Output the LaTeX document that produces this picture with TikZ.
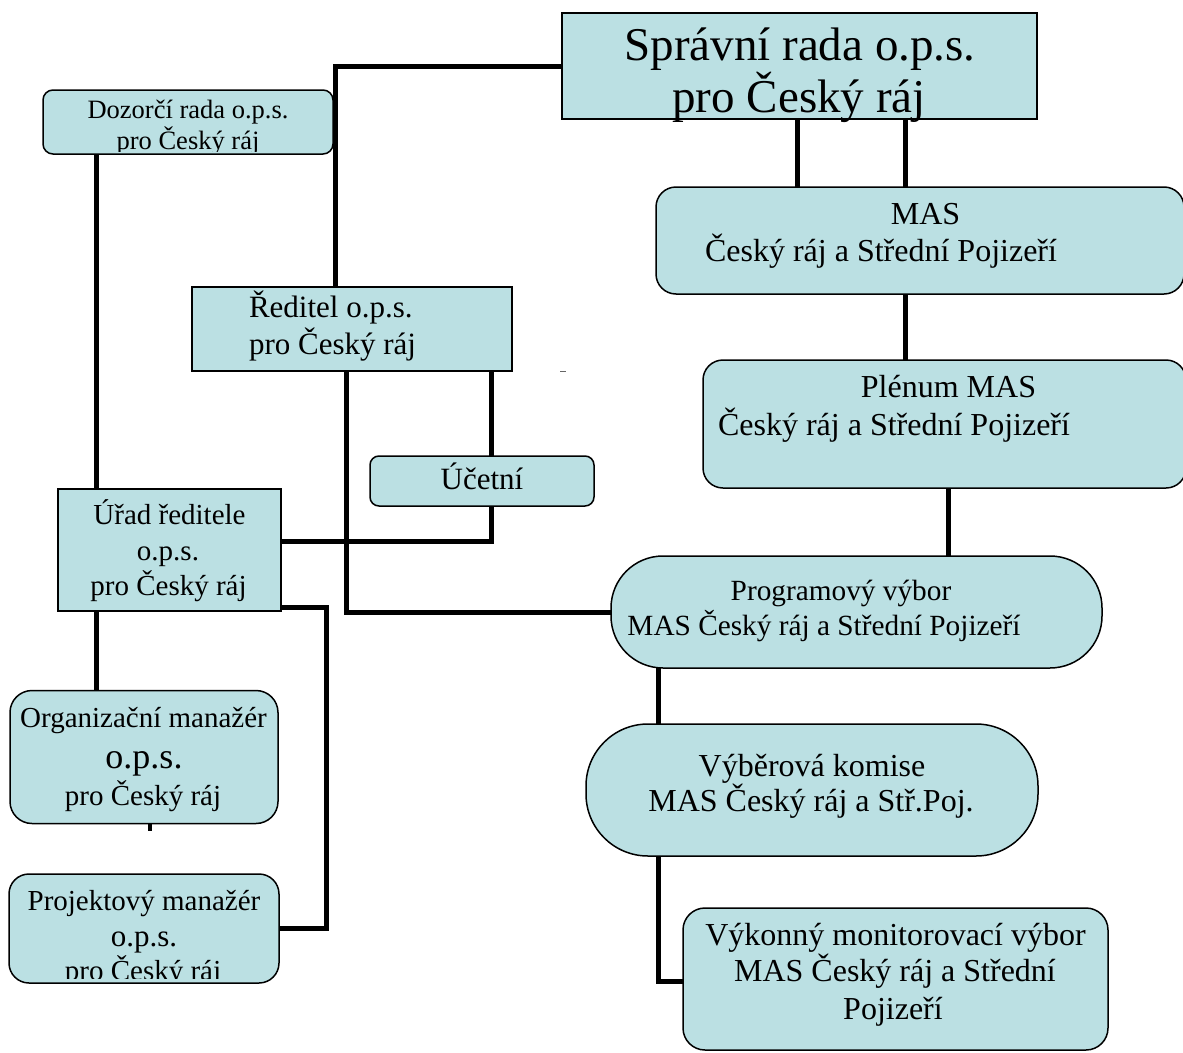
\documentclass[tikz,border=0pt]{standalone}
\usepackage{fontspec}
\setmainfont{Liberation Serif}
\definecolor{boxfill}{RGB}{187,224,227}
\pgfdeclarelayer{bg}
\pgfsetlayers{bg,main}
\begin{document}
\begin{tikzpicture}[x=1pt,y=-1pt,
  box/.style={draw=black, line width=1.5pt, fill=boxfill, inner sep=0pt, outer sep=0pt},
  sharpbox/.style={box},
  roundbox/.style={box, rounded corners=#1},
  conn/.style={line width=5pt, line join=miter, line cap=butt},
  lbl/.style={anchor=base, inner sep=0pt, outer sep=0pt},
  fA/.style={font=\fontsize{47}{52}\selectfont},
  fB/.style={font=\fontsize{26.5}{32}\selectfont},
  fC/.style={font=\fontsize{31}{38}\selectfont},
  fD/.style={font=\fontsize{29}{36}\selectfont},
  fE/.style={font=\fontsize{32}{37}\selectfont},
  fF/.style={font=\fontsize{29.3}{34}\selectfont}]
\useasboundingbox (0,0) rectangle (1183,1052);

% ---------- boxes ----------
\node[sharpbox, minimum width=475pt, minimum height=106pt] (spr) at (799.5,66) {};
\node[roundbox=10pt, minimum width=290pt, minimum height=64pt] (dozr) at (188,122) {};
\node[sharpbox, minimum width=320pt, minimum height=84pt] (red) at (352,329) {};
\node[roundbox=9pt, minimum width=224pt, minimum height=50pt] (uct) at (482,481) {};
\node[sharpbox, minimum width=223pt, minimum height=122pt] (urad) at (169.5,550) {};
\node[roundbox=22pt, minimum width=268pt, minimum height=133pt] (org) at (144,757) {};
\node[roundbox=20pt, minimum width=270pt, minimum height=109pt] (proj) at (144,928.5) {};
\node[roundbox=20pt, minimum width=528pt, minimum height=107pt] (mas) at (920,240.5) {};
\node[roundbox=20pt, minimum width=483pt, minimum height=128pt] (plen) at (944.5,424) {};
\node[roundbox=52pt, minimum width=491pt, minimum height=112pt] (prog) at (856.5,612) {};
\node[roundbox=62pt, minimum width=452pt, minimum height=132pt] (vyb) at (812,790) {};
\node[roundbox=22pt, minimum width=425pt, minimum height=142pt] (vyk) at (895.5,979) {};

% ---------- texts ----------
\node[lbl, fA] (spr1) at (800,60) {Správní rada o.p.s.};
\node[lbl, fA] (spr2) at (799,112) {pro Český ráj};

\begin{scope}
  \clip (44,91) rectangle (332,151);
  \node[lbl, fB] (dozr1) at (188,118) {Dozorčí rada o.p.s.};
  \node[lbl, fB] (dozr2) at (188,149) {pro Český ráj};
\end{scope}

\node[lbl, fC, anchor=base west] (red1) at (249,317) {Ředitel o.p.s.};
\node[lbl, fC, anchor=base west] (red2) at (249,354) {pro Český ráj};

\node[lbl, fC] (uct1) at (482,489) {Účetní};

\node[lbl, fD] (urad1) at (169.5,524) {Úřad ředitele};
\node[lbl, fD] (urad2) at (168,560) {o.p.s.};
\node[lbl, fD] (urad3) at (168.5,595) {pro Český ráj};

\node[lbl, fD] (org1) at (143.5,727) {Organizační manažér};
\node[lbl, font=\fontsize{36}{40}\selectfont] (org2) at (144,768) {o.p.s.};
\node[lbl, fD] (org3) at (143,805) {pro Český ráj};

\begin{scope}
  \clip (10,875) rectangle (279,978.5);
  \node[lbl, fD] (proj1) at (144,910) {Projektový manažér};
  \node[lbl, font=\fontsize{31}{36}\selectfont] (proj2) at (144,946) {o.p.s.};
  \node[lbl, fD] (proj3) at (143,980) {pro Český ráj};
\end{scope}

\node[lbl, fE] (mas1) at (925.5,224) {MAS};
\node[lbl, fE] (mas2) at (881,261) {Český ráj a Střední Pojizeří};

\node[lbl, fE] (plen1) at (948.5,397) {Plénum MAS};
\node[lbl, fE] (plen2) at (894,435) {Český ráj a Střední Pojizeří};

\node[lbl, fF] (prog1) at (841,600) {Programový výbor};
\node[lbl, fF] (prog2) at (824,635) {MAS Český ráj a Střední Pojizeří};

\node[lbl, fE] (vyb1) at (812,776) {Výběrová komise};
\node[lbl, fE] (vyb2) at (811,811) {MAS Český ráj a Stř.Poj.};

\node[lbl, fE] (vyk1) at (895.5,945) {Výkonný monitorovací výbor};
\node[lbl, fE] (vyk2) at (895,981) {MAS Český ráj a Střední};
\node[lbl, fE] (vyk3) at (893,1019) {Pojizeří};

% ---------- helper coordinates ----------
\coordinate (x96) at (96,0);
\coordinate (x150) at (150,0);
\coordinate (x335) at (335,0);
\coordinate (x346) at (346,0);
\coordinate (x491) at (491,0);
\coordinate (x658) at (658,0);
\coordinate (x797) at (797,0);
\coordinate (x905) at (905,0);
\coordinate (x948) at (948,0);
\coordinate (y541) at (0,541);
\coordinate (y607) at (0,607);
\coordinate (y928) at (0,928);
\coordinate (y981) at (0,981);
\coordinate (pbend) at (326,760);
\coordinate (dash) at (560,371);

% ---------- connectors ----------
\begin{pgfonlayer}{bg}
\draw[conn] (spr.west) -| (red.north -| x335);
\draw[conn] (dozr.south -| x96) -- (urad.north -| x96);
\draw[conn] (spr.south -| x797) -- (mas.north -| x797);
\draw[conn] (spr.south -| x905) -- (mas.north -| x905);
\draw[conn] (mas.south -| x905) -- (plen.north -| x905);
\draw[conn] (plen.south -| x948) -- (prog.north -| x948);
\draw[conn] (red.south -| x346) |- (prog.west);
\draw[conn] (red.south -| x491) -- (uct.north -| x491);
\draw[conn] (uct.south -| x491) |- (urad.east |- y541);
\draw[conn] (urad.east |- y607) -| (pbend) |- (proj.east |- y928);
\draw[conn] (urad.south -| x96) -- (org.north -| x96);
\draw[conn] (prog.south -| x658) -- (vyb.north -| x658);
\draw[conn] (vyb.south -| x658) |- (vyk.west |- y981);
\draw[line width=4pt] (org.south -| x150) -- ++(0,7);
\end{pgfonlayer}
\draw[black!60, line width=0.8pt] (dash) -- ++(6,0);
\end{tikzpicture}
\end{document}
